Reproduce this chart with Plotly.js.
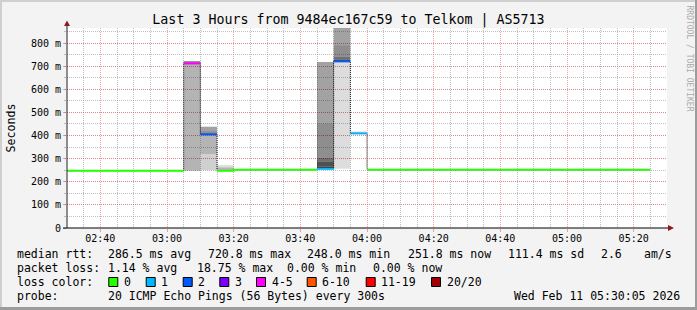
<!DOCTYPE html>
<html>
<head>
<meta charset="utf-8">
<script src="https://cdn.plot.ly/plotly-3.0.1.min.js"></script>
<style>html,body{margin:0;padding:0;background:#f3f3f3;}#chart{width:697px;height:310px;}</style>
</head>
<body>
<div id="chart"></div>
<script>
// ---------- data ----------
const intervalStart = ['02:30','02:35','02:40','02:45','02:50','02:55','03:00','03:05','03:10','03:15',
  '03:20','03:25','03:30','03:35','03:40','03:45','03:50','03:55','04:00','04:05',
  '04:10','04:15','04:20','04:25','04:30','04:35','04:40','04:45','04:50','04:55',
  '05:00','05:05','05:10','05:15','05:20','05:25'];
const medianMs = [248,248,248,248,248,248,248,712,405,248,
  252,252,252,252,252,256,720.8,409,252,252,
  252,252,252,252,252,252,252,252,252,252,
  252,252,252,252,251.8,null];
const lossPct = [0,0,0,0,0,0,0,18.75,7.5,0,
  0,0,0,0,0,3.75,6.25,3.75,0,0,
  0,0,0,0,0,0,0,0,0,0,
  0,0,0,0,0,null];
// smoke bands (ping distribution): start, low ms, high ms, density level
const smokeStart = ['03:05','03:05','03:10','03:10','03:10','03:10','03:15','03:15',
  '03:45','03:45','03:45','03:45','03:45','03:50','03:50','03:50','03:50','03:50','03:55'];
const smokeLoMs  = [248,709,250,320,405,419,251,262, 256,266,288,304,453, 256,721,727,741,791, 409];
const smokeHiMs  = [709,722,320,405,419,438,262,272, 266,288,304,453,718, 721,727,741,791,900, 417];
const smokeLevel = [3,5,2,3,5,4,3,1, 8,7,6,5,4, 1,7,6,5,4, 2];
const lossLabels = ['0','1','2','3','4-5','6-10','11-19','20/20'];
const yTickVals = [0,0.1,0.2,0.3,0.4,0.5,0.6,0.7,0.8];
const yTickText = ['0','100 m','200 m','300 m','400 m','500 m','600 m','700 m','800 m'];
const titleText = 'Last 3 Hours from 9484ec167c59 to Telkom | AS5713';
const statsRtt = ['median rtt:','286.5 ms avg','720.8 ms max','248.0 ms min','251.8 ms now','111.4 ms sd','2.6','am/s'];
const statsLoss = ['packet loss:','1.14 % avg','18.75 % max','0.00 % min','0.00 % now'];
const probeText = ['probe:','20 ICMP Echo Pings (56 Bytes) every 300s','Wed Feb 11 05:30:05 2026'];

// ---------- style ----------
const lossColors = ['#26ff00','#00b8ff','#0059ff','#7e00ff','#ff00ff','#ff5500','#ff0000','#a10000'];
const grayOf = {1:221,2:208,3:180,4:162,5:142,6:112,7:80,8:56};
const MONO = 'DejaVu Sans Mono, monospace';
const STEP = 5*60*1000;
const toMs = t => { const [h,m] = t.split(':').map(Number); return Date.UTC(2026,1,11,h,m); };
function bucket(p){ const n = p/100*20; if(n<=0) return 0; if(n<=1) return 1; if(n<=2) return 2; if(n<=3) return 3; if(n<=5) return 4; if(n<=10) return 5; if(n<20) return 6; return 7; }

const traces = [];
Object.keys(grayOf).forEach(lv => {
  const idx = smokeLevel.map((l,i)=>l==lv?i:-1).filter(i=>i>=0);
  if(!idx.length) return;
  const a = (1 - grayOf[lv]/255).toFixed(3);
  traces.push({type:'bar', x: idx.map(i=>toMs(smokeStart[i])), base: idx.map(i=>smokeLoMs[i]/1000),
    y: idx.map(i=>(smokeHiMs[i]-smokeLoMs[i])/1000), width: idx.map(()=>STEP), offset: 0,
    marker:{color:`rgba(0,0,0,${a})`, line:{width:0}}, hoverinfo:'skip'});
});
{
  const xs=[], ys=[];
  intervalStart.forEach((t,i)=>{ if(medianMs[i]==null) return; xs.push(toMs(t), toMs(t)+STEP); ys.push(medianMs[i]/1000, medianMs[i]/1000); });
  traces.push({type:'scatter', mode:'lines', x:xs, y:ys, line:{color:'#111', width:1, dash:'1px,1px'}, hoverinfo:'skip'});
}
lossColors.forEach((c,b) => {
  const xs=[], ys=[]; let prev=-2;
  intervalStart.forEach((t,i)=>{
    if(medianMs[i]==null || bucket(lossPct[i])!==b) return;
    if(prev!==i-1 && xs.length){ xs.push(null); ys.push(null); }
    xs.push(toMs(t), toMs(t)+STEP); ys.push(medianMs[i]/1000, medianMs[i]/1000); prev=i;
  });
  if(xs.length) traces.push({type:'scatter', mode:'lines', x:xs, y:ys, line:{color:c, width:2}, hoverinfo:'skip'});
});

// ---------- layout helpers ----------
const L=67, R=667, T=28, B=228;
const px = x => (x-L)/(R-L);
const py = y => (B-y)/(B-T);
const ann = (text,x,y,opt={}) => Object.assign({text, x:px(x), y:py(y), xref:'paper', yref:'paper', showarrow:false,
  xanchor:'left', yanchor:'middle', borderpad:0, font:{family:MONO, size:11.5, color:'#000'}}, opt);

const annotations = [];
const rttX = [16,107.3,207.3,306,407.3,507.3,600,642.7];
statsRtt.forEach((s,i)=>annotations.push(ann(s, rttX[i], 254)));
const lossX = [16,107.3,196,286,372.3];
statsLoss.forEach((s,i)=>annotations.push(ann(s, lossX[i], 268)));
annotations.push(ann('loss color:',16,282));
const boxX = [108.3,145.7,182.7,219.3,256,306.7,365.7,431];
const shapes = [];
lossLabels.forEach((s,i)=>{
  annotations.push(ann(s, boxX[i]+14.7, 282));
  shapes.push({type:'rect', xref:'paper', yref:'paper', x0:px(boxX[i]+0.5), x1:px(boxX[i]+9.5), y0:py(277.5), y1:py(286.5),
    fillcolor:lossColors[i], line:{color:'#000', width:1}});
});
const probeX = [16,107.3,513.3];
probeText.forEach((s,i)=>annotations.push(ann(s, probeX[i], 296)));
annotations.push(ann('Seconds', 10.5, 128, {xanchor:'center', textangle:-90, font:{family:MONO,size:11.6,color:'#000'}}));
annotations.push(ann('RRDTOOL / TOBI OETIKER', 689, 58.5, {xanchor:'center', textangle:90, font:{family:MONO,size:8,color:'#aaaaaa'}}));

const W=697,H=310;
shapes.push({type:'rect', xref:'paper', yref:'paper', x0:px(0), x1:px(2), y0:py(0), y1:py(H), fillcolor:'#cfcfcf', line:{width:0}, layer:'below'});
shapes.push({type:'rect', xref:'paper', yref:'paper', x0:px(0), x1:px(W), y0:py(0), y1:py(2), fillcolor:'#cfcfcf', line:{width:0}, layer:'below'});
shapes.push({type:'rect', xref:'paper', yref:'paper', x0:px(W-2), x1:px(W), y0:py(0), y1:py(H), fillcolor:'#9c9c9c', line:{width:0}, layer:'below'});
shapes.push({type:'rect', xref:'paper', yref:'paper', x0:px(0), x1:px(W), y0:py(H-3), y1:py(H), fillcolor:'#9c9c9c', line:{width:0}, layer:'below'});
shapes.push({type:'line', xref:'paper', yref:'paper', x0:px(67), x1:px(67), y0:py(228), y1:py(24), line:{color:'#222', width:1}});
shapes.push({type:'line', xref:'paper', yref:'paper', x0:px(63), x1:px(669), y0:py(228), y1:py(228), line:{color:'#000', width:1}});
shapes.push({type:'path', xref:'paper', yref:'paper', path:`M ${px(64)} ${py(26)} L ${px(70)} ${py(26)} L ${px(67)} ${py(20.5)} Z`, fillcolor:'#8f1a1a', line:{width:0}});
shapes.push({type:'path', xref:'paper', yref:'paper', path:`M ${px(668)} ${py(225)} L ${px(668)} ${py(231)} L ${px(674)} ${py(228)} Z`, fillcolor:'#8f1a1a', line:{width:0}});

const majorGrid = 'rgba(235,90,90,0.55)';
const minorGrid = 'rgba(140,140,140,0.55)';
const layout = {
  width:W, height:H, margin:{l:L, r:W-R, t:T, b:H-B, pad:0},
  paper_bgcolor:'#f3f3f3', plot_bgcolor:'#ffffff', showlegend:false, barmode:'overlay',
  title:{text:titleText, x:0.5, xanchor:'center', xref:'container', y:1-19.3/H, yref:'container', yanchor:'middle',
    font:{family:MONO, size:13.3, color:'#000'}},
  xaxis:{type:'date', range:[toMs('02:30'), toMs('05:30')], tickmode:'linear', tick0:toMs('02:40'), dtick:20*60*1000,
    tickformat:'%H:%M', showgrid:true, gridcolor:majorGrid, griddash:'1px,1px', gridwidth:1,
    ticks:'outside', ticklen:3, tickcolor:majorGrid, tickfont:{family:MONO, size:10, color:'#000'}, ticklabelstandoff:-2,
    showline:false, zeroline:false, fixedrange:true,
    minor:{tickmode:'linear', tick0:toMs('02:30'), dtick:STEP, showgrid:true, gridcolor:minorGrid, griddash:'1px,1px', ticks:''}},
  yaxis:{range:[0,0.865], tickmode:'array', tickvals:yTickVals, ticktext:yTickText, showgrid:true, gridcolor:majorGrid,
    griddash:'1px,1px', ticks:'outside', ticklen:3, tickcolor:majorGrid, tickfont:{family:MONO, size:10, color:'#000'},
    showline:false, zeroline:false, fixedrange:true,
    minor:{tickmode:'linear', tick0:0, dtick:0.05, showgrid:true, gridcolor:minorGrid, griddash:'1px,1px', ticks:'outside', ticklen:2, tickcolor:minorGrid}},
  annotations, shapes
};
Plotly.newPlot('chart', traces, layout, {staticPlot:true, displayModeBar:false});
</script>
</body>
</html>
